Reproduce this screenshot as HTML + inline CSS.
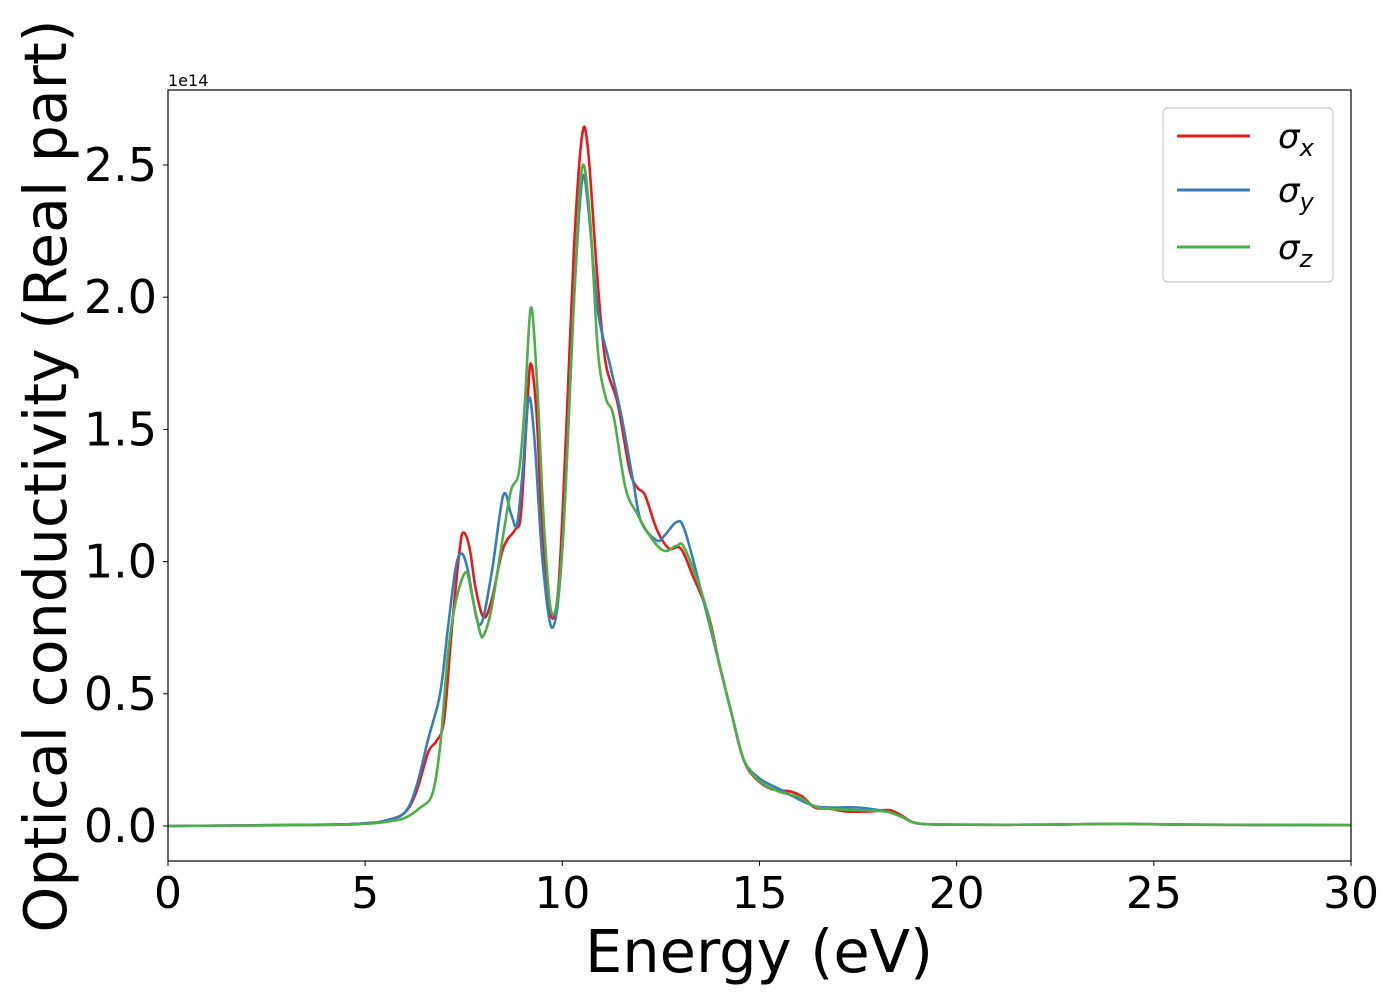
<!DOCTYPE html>
<html><head><meta charset="utf-8"><style>
body{margin:0;background:#fff}
svg text{font-family:"DejaVu Sans","Liberation Sans",sans-serif;fill:#000}
</style></head><body>
<svg id="chart" width="1400" height="1000" viewBox="0 0 1400 1000" xmlns="http://www.w3.org/2000/svg">
<rect width="1400" height="1000" fill="#fff"/>
<g id="plot"></g>
<rect x="168" y="90" width="1183" height="771" fill="none" stroke="#000" stroke-width="1.2"/>
<g id="xticks"></g><g id="yticks"></g>
<text x="168" y="86" font-size="16">1e14</text>
<text x="759" y="972" font-size="59" text-anchor="middle">Energy (eV)</text>
<text transform="translate(66,476) rotate(-90)" font-size="58.5" text-anchor="middle">Optical conductivity (Real part)</text>
<g>
<rect x="1163" y="108" width="170" height="174" rx="5" fill="#fff" stroke="#ccc" stroke-width="1.2"/>
<line x1="1177" x2="1250" y1="136" y2="136" stroke="#e41a1c" stroke-width="3"/>
<line x1="1177" x2="1250" y1="190" y2="190" stroke="#377eb8" stroke-width="3"/>
<line x1="1177" x2="1250" y1="247" y2="247" stroke="#4daf4a" stroke-width="3"/>
<text x="1278" y="148" font-size="34" font-style="italic">σ<tspan font-size="24" dy="8">x</tspan></text>
<text x="1278" y="202" font-size="34" font-style="italic">σ<tspan font-size="24" dy="8">y</tspan></text>
<text x="1278" y="259" font-size="34" font-style="italic">σ<tspan font-size="24" dy="8">z</tspan></text>
</g>
</svg>
<script>
const xTicks=[0,5,10,15,20,25,30];
const yTicks=[0,0.5,1.0,1.5,2.0,2.5];
const xE=[0,4,5,5.5,6,6.3,6.6,6.8,7.0,7.2,7.4,7.5,7.65,7.8,8.0,8.2,8.5,8.8,8.95,9.1,9.2,9.35,9.5,9.7,9.9,10.1,10.3,10.5,10.65,10.9,11.1,11.4,11.7,11.9,12.1,12.4,12.7,13.0,13.3,13.7,14.0,14.3,14.6,14.9,15.3,15.8,16.1,16.4,16.8,17.2,17.8,18.3,18.6,19,20,22,24,26,30];
const xV=[0,0.005,0.01,0.02,0.05,0.13,0.28,0.32,0.40,0.75,1.05,1.11,1.05,0.90,0.79,0.85,1.05,1.12,1.18,1.55,1.75,1.55,1.1,0.80,0.9,1.5,2.2,2.61,2.56,2.05,1.75,1.60,1.35,1.28,1.25,1.12,1.05,1.05,0.95,0.80,0.60,0.42,0.25,0.18,0.14,0.13,0.11,0.07,0.065,0.055,0.055,0.06,0.04,0.01,0.005,0.005,0.008,0.005,0.003];
const yE=[0,4,5,5.5,6,6.3,6.6,6.9,7.1,7.3,7.45,7.6,7.9,8.2,8.5,8.7,8.85,9.0,9.15,9.3,9.5,9.75,10.0,10.3,10.5,10.65,10.9,11.2,11.5,11.8,12.0,12.4,12.6,12.9,13.1,13.5,14.0,14.3,14.6,15.0,15.5,16.3,16.8,17.5,18.2,18.6,19,20,22,24,26,30];
const yV=[0,0.005,0.01,0.02,0.05,0.15,0.33,0.5,0.75,0.98,1.03,0.97,0.76,0.95,1.25,1.18,1.14,1.35,1.62,1.45,1.0,0.75,1.05,2.0,2.44,2.35,1.95,1.75,1.55,1.30,1.15,1.08,1.10,1.15,1.12,0.9,0.60,0.42,0.25,0.18,0.14,0.08,0.07,0.07,0.055,0.035,0.01,0.005,0.005,0.008,0.005,0.003];
const zE=[0,4,5,5.5,6,6.4,6.7,6.9,7.1,7.3,7.55,7.7,7.9,8.0,8.2,8.5,8.7,8.9,9.05,9.2,9.35,9.55,9.75,10.0,10.3,10.5,10.7,10.9,11.1,11.3,11.6,11.9,12.3,12.6,12.9,13.1,13.6,14.0,14.3,14.6,15.0,15.5,16.0,16.5,17.5,18.2,18.6,19,20,22,24,26,30];
const zV=[0,0.004,0.008,0.015,0.03,0.07,0.12,0.3,0.65,0.85,0.96,0.88,0.74,0.72,0.82,1.1,1.27,1.34,1.6,1.96,1.7,1.1,0.8,1.05,2.0,2.49,2.3,1.8,1.62,1.55,1.28,1.18,1.08,1.04,1.06,1.05,0.85,0.60,0.42,0.25,0.17,0.13,0.11,0.07,0.06,0.055,0.035,0.01,0.005,0.005,0.008,0.005,0.003];
const X=e=>168+e*(1183/30);
const Y=v=>826-v*264.4;
const NS="http://www.w3.org/2000/svg";
function pathD(E,V){
  const p=E.map((e,i)=>[X(e),Y(V[i])]);
  let d="M"+p[0][0]+","+p[0][1];
  for(let i=0;i<p.length-1;i++){
    const p0=p[i-1]||p[i],p1=p[i],p2=p[i+1],p3=p[i+2]||p2;
    d+=" C"+(p1[0]+(p2[0]-p0[0])/6)+","+(p1[1]+(p2[1]-p0[1])/6)+" "+(p2[0]-(p3[0]-p1[0])/6)+","+(p2[1]-(p3[1]-p1[1])/6)+" "+p2[0]+","+p2[1];
  }
  return d;
}
const plot=document.getElementById("plot");
[[xE,xV,"#e41a1c","series-sigma-x"],[yE,yV,"#377eb8","series-sigma-y"],[zE,zV,"#4daf4a","series-sigma-z"]].forEach(s=>{
  const el=document.createElementNS(NS,"path");
  el.setAttribute("d",pathD(s[0],s[1]));
  el.setAttribute("fill","none");el.setAttribute("stroke",s[2]);el.setAttribute("stroke-width","2.6");
  
  
  plot.appendChild(el);
});
const xt=document.getElementById("xticks");
xTicks.forEach(t=>{
  const l=document.createElementNS(NS,"line");
  l.setAttribute("x1",X(t));l.setAttribute("x2",X(t));l.setAttribute("y1",861);l.setAttribute("y2",866);l.setAttribute("stroke","#000");
  
  
  xt.appendChild(l);
  const tx=document.createElementNS(NS,"text");
  tx.setAttribute("x",X(t));tx.setAttribute("y",908);tx.setAttribute("font-size","44");tx.setAttribute("text-anchor","middle");
  tx.textContent=t;
  
  
  xt.appendChild(tx);
});
const yt=document.getElementById("yticks");
yTicks.forEach(t=>{
  const l=document.createElementNS(NS,"line");
  l.setAttribute("x1",163);l.setAttribute("x2",168);l.setAttribute("y1",Y(t));l.setAttribute("y2",Y(t));l.setAttribute("stroke","#000");
  
  
  yt.appendChild(l);
  const tx=document.createElementNS(NS,"text");
  tx.setAttribute("x",157);tx.setAttribute("y",Y(t)+16);tx.setAttribute("font-size","46");tx.setAttribute("text-anchor","end");
  tx.textContent=t.toFixed(1);
  
  
  yt.appendChild(tx);
});
</script>
</body></html>
